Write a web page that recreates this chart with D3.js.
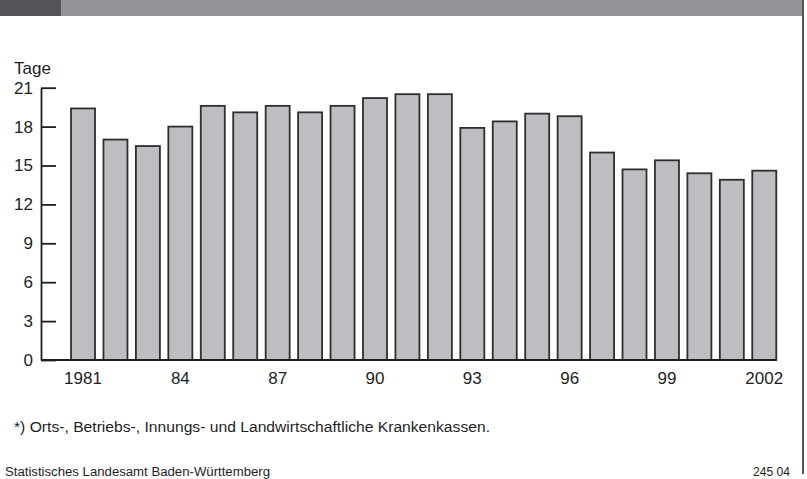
<!DOCTYPE html>
<html>
<head>
<meta charset="utf-8">
<script src="https://cdn.jsdelivr.net/npm/d3@7"></script>
<style>
  html, body { margin: 0; padding: 0; background: #fff; }
  svg { display: block; }
  text { font-family: "Liberation Sans", Arial, Helvetica, sans-serif; fill: #1e1e1e; }
</style>
</head>
<body>
<svg id="chart" width="807" height="479"></svg>
<script>
const years = [1981,1982,1983,1984,1985,1986,1987,1988,1989,1990,1991,1992,1993,1994,1995,1996,1997,1998,1999,2000,2001,2002];
const values = [19.4,17.0,16.5,18.0,19.6,19.1,19.6,19.1,19.6,20.2,20.5,20.5,17.9,18.4,19.0,18.8,16.0,14.7,15.4,14.4,13.9,14.6];
const yTicks = [0,3,6,9,12,15,18,21];
const xLabelYears = [1981,1984,1987,1990,1993,1996,1999,2002];
const xLabelTexts = ["1981","84","87","90","93","96","99","2002"];
const unitLabel = "Tage";
const footnote = "*) Orts-, Betriebs-, Innungs- und Landwirtschaftliche Krankenkassen.";
const source = "Statistisches Landesamt Baden-Württemberg";
const code = "245 04";

const svg = d3.select("#chart");

// header band
svg.append("rect").attr("x",0).attr("y",0).attr("width",804).attr("height",16).attr("fill","#949498");
svg.append("rect").attr("x",0).attr("y",0).attr("width",61).attr("height",16).attr("fill","#545558");
// right border line
svg.append("line").attr("x1",803).attr("x2",803).attr("y1",0).attr("y2",474)
  .attr("stroke","#555","stroke-width",2).attr("stroke-width",2);

const axisX = 41;
const y = d3.scaleLinear().domain([0,21]).range([360,87.7]);
const x = d3.scaleBand().domain(years).range([66.8,780.5]).paddingInner(0.26).paddingOuter(0.13);

// bars
svg.append("g").selectAll("rect").data(years).join("rect")
  .attr("x", d => x(d))
  .attr("width", x.bandwidth())
  .attr("y", (d,i) => y(values[i]))
  .attr("height", (d,i) => y(0) - y(values[i]))
  .attr("fill","#bdbec2")
  .attr("stroke","#2e2e2e")
  .attr("stroke-width",1.8);

// y axis
const yAxis = svg.append("g").attr("transform",`translate(${axisX},0)`)
  .call(d3.axisLeft(y).tickValues(yTicks).tickSizeInner(-15).tickSizeOuter(0).tickPadding(8));
yAxis.selectAll("text").style("font-size","17px").attr("fill","#1e1e1e");
yAxis.selectAll("line").attr("stroke","#1e1e1e").attr("stroke-width",1.8);
yAxis.select(".domain").attr("stroke","#1e1e1e").attr("stroke-width",1.8);

// x axis baseline
const lastBarEnd = x(years[years.length-1]) + x.bandwidth();
svg.append("line").attr("x1",axisX).attr("x2",lastBarEnd).attr("y1",y(0)).attr("y2",y(0))
  .attr("stroke","#1e1e1e").attr("stroke-width",2);

// x labels
const xAxis = svg.append("g").attr("transform",`translate(0,${y(0)})`)
  .call(d3.axisBottom(x).tickValues(xLabelYears).tickSize(0).tickPadding(12)
    .tickFormat(d => xLabelTexts[xLabelYears.indexOf(d)]));
xAxis.select(".domain").remove();
xAxis.selectAll("text").style("font-size","17px").attr("fill","#1e1e1e");

// unit label
svg.append("text").attr("x",14).attr("y",74.3).style("font-size","17px").text(unitLabel);

// footnote
svg.append("text").attr("x",14).attr("y",431.5).style("font-size","14px")
  .attr("textLength",476).attr("lengthAdjust","spacingAndGlyphs").text(footnote);

// source
svg.append("text").attr("x",5).attr("y",476).style("font-size","12.5px")
  .attr("textLength",265).attr("lengthAdjust","spacingAndGlyphs").text(source);
svg.append("text").attr("x",790).attr("y",476).attr("text-anchor","end").style("font-size","12.5px")
  .attr("textLength",37).attr("lengthAdjust","spacingAndGlyphs").text(code);
</script>
</body>
</html>
